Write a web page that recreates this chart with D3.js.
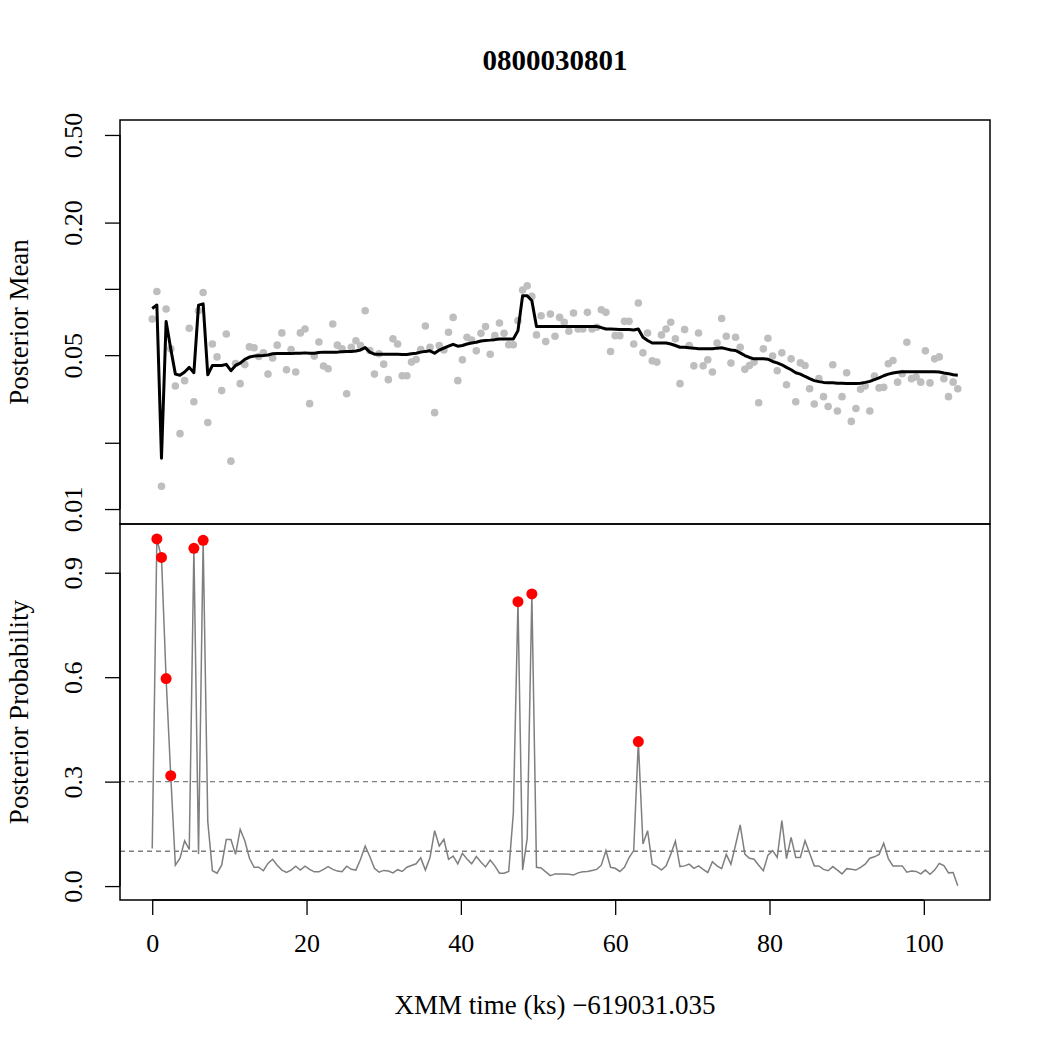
<!DOCTYPE html>
<html>
<head>
<meta charset="utf-8">
<script src="https://d3js.org/d3.v7.min.js"></script>
<style>
body { margin: 0; background: white; }
text { font-family: "Liberation Serif", "Times New Roman", serif; }
</style>
</head>
<body>
<div id="chart"></div>
<script>
// ---- data ----
const chartTitle = "0800030801";
const xLabel = "XMM time (ks) \u2212619031.035";
const topLabel = "Posterior Mean";
const bottomLabel = "Posterior Probability";

// time of each bin (ks)
const times = [
  0, 0.6, 1.2, 1.8, 2.4, 3, 3.6, 4.2, 4.8, 5.4,
  6, 6.6, 7.2, 7.8, 8.4, 9, 9.6, 10.2, 10.8, 11.4,
  12, 12.6, 13.2, 13.8, 14.4, 15, 15.6, 16.2, 16.8, 17.4,
  18, 18.6, 19.2, 19.8, 20.4, 21, 21.6, 22.2, 22.8, 23.4,
  24, 24.6, 25.2, 25.8, 26.4, 27, 27.6, 28.2, 28.8, 29.4,
  30, 30.6, 31.2, 31.8, 32.4, 33, 33.6, 34.2, 34.8, 35.4,
  36, 36.6, 37.2, 37.8, 38.4, 39, 39.6, 40.2, 40.8, 41.4,
  42, 42.6, 43.2, 43.8, 44.4, 45, 45.6, 46.2, 46.8, 47.4,
  48, 48.6, 49.2, 49.8, 50.4, 51, 51.6, 52.2, 52.8, 53.4,
  54, 54.6, 55.2, 55.8, 56.4, 57, 57.6, 58.2, 58.8, 59.4,
  60, 60.6, 61.2, 61.8, 62.4, 63, 63.6, 64.2, 64.8, 65.4,
  66, 66.6, 67.2, 67.8, 68.4, 69, 69.6, 70.2, 70.8, 71.4,
  72, 72.6, 73.2, 73.8, 74.4, 75, 75.6, 76.2, 76.8, 77.4,
  78, 78.6, 79.2, 79.8, 80.4, 81, 81.6, 82.2, 82.8, 83.4,
  84, 84.6, 85.2, 85.8, 86.4, 87, 87.6, 88.2, 88.8, 89.4,
  90, 90.6, 91.2, 91.8, 92.4, 93, 93.6, 94.2, 94.8, 95.4,
  96, 96.6, 97.2, 97.8, 98.4, 99, 99.6, 100.2, 100.8, 101.4,
  102, 102.6, 103.2, 103.8, 104.4
];

// posterior mean of each bin (grey points)
const postMean = [
  0.0729, 0.0973, 0.0127, 0.0810, 0.0534, 0.0362, 0.0220, 0.0383, 0.0662, 0.0307,
  0.0796, 0.0963, 0.0247, 0.0562, 0.0491, 0.0345, 0.0624, 0.0165, 0.0458, 0.0371,
  0.0453, 0.0545, 0.0540, 0.0493, 0.0512, 0.0410, 0.0485, 0.0555, 0.0631, 0.0429,
  0.0530, 0.0419, 0.0631, 0.0657, 0.0301, 0.0495, 0.0574, 0.0446, 0.0434, 0.0692,
  0.0555, 0.0534, 0.0334, 0.0543, 0.0581, 0.0553, 0.0796, 0.0525, 0.0410, 0.0507,
  0.0455, 0.0387, 0.0593, 0.0562, 0.0403, 0.0403, 0.0465, 0.0478, 0.0530, 0.0678,
  0.0543, 0.0274, 0.0553, 0.0528, 0.0635, 0.0742, 0.0383, 0.0476, 0.0603, 0.0586,
  0.0523, 0.0628, 0.0674, 0.0505, 0.0613, 0.0700, 0.0628, 0.0557, 0.0557, 0.0717,
  0.0987, 0.1032, 0.0924, 0.0618, 0.0755, 0.0576, 0.0768, 0.0609, 0.0742, 0.0705,
  0.0642, 0.0777, 0.0657, 0.0657, 0.0782, 0.0657, 0.0669, 0.0804, 0.0782, 0.0519,
  0.0613, 0.0613, 0.0712, 0.0712, 0.0562, 0.0862, 0.0512, 0.0630, 0.0471, 0.0465,
  0.0618, 0.0657, 0.0705, 0.0593, 0.0371, 0.0653, 0.0553, 0.0447, 0.0630, 0.0447,
  0.0476, 0.0419, 0.0568, 0.0734, 0.0609, 0.0460, 0.0603, 0.0543, 0.0431, 0.0449,
  0.0465, 0.0304, 0.0534, 0.0597, 0.0495, 0.0425, 0.0512, 0.0367, 0.0481, 0.0307,
  0.0461, 0.0449, 0.0352, 0.0300, 0.0391, 0.0324, 0.0292, 0.0452, 0.0279, 0.0324,
  0.0416, 0.0250, 0.0286, 0.0350, 0.0362, 0.0279, 0.0402, 0.0355, 0.0357, 0.0457,
  0.0473, 0.0377, 0.0412, 0.0572, 0.0391, 0.0398, 0.0377, 0.0523, 0.0374, 0.0481,
  0.0491, 0.0391, 0.0324, 0.0377, 0.0352
];

// smoothed posterior mean (black line)
const smoothMean = [
  0.0815, 0.0844, 0.0170, 0.0710, 0.0534, 0.0410, 0.0405, 0.0419, 0.0440, 0.0416,
  0.0844, 0.0855, 0.0407, 0.0449, 0.0449, 0.0449, 0.0454, 0.0425, 0.0449, 0.0460,
  0.0478, 0.0490, 0.0495, 0.0497, 0.0498, 0.0501, 0.0507, 0.0508, 0.0508, 0.0508,
  0.0508, 0.0510, 0.0510, 0.0512, 0.0510, 0.0510, 0.0514, 0.0516, 0.0516, 0.0516,
  0.0516, 0.0518, 0.0520, 0.0520, 0.0522, 0.0528, 0.0541, 0.0516, 0.0505, 0.0505,
  0.0505, 0.0505, 0.0505, 0.0505, 0.0503, 0.0503, 0.0507, 0.0510, 0.0516, 0.0520,
  0.0523, 0.0510, 0.0527, 0.0538, 0.0549, 0.0560, 0.0549, 0.0553, 0.0562, 0.0568,
  0.0572, 0.0580, 0.0583, 0.0585, 0.0588, 0.0592, 0.0592, 0.0592, 0.0592, 0.0646,
  0.0930, 0.0930, 0.0883, 0.0674, 0.0674, 0.0674, 0.0674, 0.0674, 0.0674, 0.0674,
  0.0674, 0.0674, 0.0674, 0.0674, 0.0674, 0.0674, 0.0674, 0.0667, 0.0657, 0.0657,
  0.0655, 0.0653, 0.0653, 0.0653, 0.0651, 0.0657, 0.0603, 0.0583, 0.0568, 0.0568,
  0.0568, 0.0568, 0.0562, 0.0553, 0.0543, 0.0543, 0.0540, 0.0538, 0.0534, 0.0534,
  0.0534, 0.0534, 0.0538, 0.0540, 0.0534, 0.0528, 0.0525, 0.0512, 0.0498, 0.0488,
  0.0481, 0.0481, 0.0481, 0.0479, 0.0468, 0.0461, 0.0452, 0.0440, 0.0429, 0.0416,
  0.0410, 0.0400, 0.0391, 0.0383, 0.0379, 0.0376, 0.0375, 0.0375, 0.0373, 0.0373,
  0.0372, 0.0372, 0.0372, 0.0373, 0.0376, 0.0380, 0.0387, 0.0394, 0.0403, 0.0410,
  0.0415, 0.0418, 0.0420, 0.0420, 0.0420, 0.0420, 0.0420, 0.0420, 0.0420, 0.0420,
  0.0419, 0.0415, 0.0412, 0.0407, 0.0405
];

// posterior probability of a change in each bin
const postProb = [
  0.108, 0.997, 0.944, 0.596, 0.317, 0.060, 0.080, 0.130, 0.105, 0.970,
  0.092, 0.993, 0.185, 0.044, 0.037, 0.060, 0.134, 0.134, 0.091, 0.163,
  0.130, 0.080, 0.054, 0.054, 0.044, 0.065, 0.077, 0.060, 0.046, 0.039,
  0.046, 0.057, 0.046, 0.057, 0.048, 0.041, 0.041, 0.048, 0.056, 0.048,
  0.043, 0.041, 0.057, 0.048, 0.046, 0.077, 0.115, 0.085, 0.051, 0.040,
  0.045, 0.043, 0.038, 0.047, 0.042, 0.054, 0.059, 0.064, 0.081, 0.046,
  0.082, 0.159, 0.115, 0.134, 0.077, 0.086, 0.064, 0.094, 0.078, 0.064,
  0.085, 0.069, 0.055, 0.075, 0.058, 0.037, 0.037, 0.042, 0.209, 0.817,
  0.046, 0.137, 0.839, 0.054, 0.052, 0.041, 0.030, 0.035, 0.035, 0.035,
  0.034, 0.032, 0.038, 0.041, 0.042, 0.045, 0.048, 0.060, 0.102, 0.054,
  0.051, 0.042, 0.054, 0.082, 0.102, 0.415, 0.121, 0.159, 0.063, 0.056,
  0.046, 0.058, 0.091, 0.129, 0.056, 0.058, 0.063, 0.051, 0.058, 0.048,
  0.039, 0.070, 0.058, 0.050, 0.091, 0.063, 0.118, 0.176, 0.092, 0.080,
  0.077, 0.060, 0.044, 0.089, 0.102, 0.082, 0.188, 0.079, 0.140, 0.082,
  0.082, 0.130, 0.094, 0.058, 0.058, 0.048, 0.044, 0.056, 0.046, 0.035,
  0.050, 0.048, 0.046, 0.054, 0.063, 0.080, 0.084, 0.091, 0.123, 0.079,
  0.058, 0.058, 0.058, 0.040, 0.043, 0.042, 0.035, 0.046, 0.034, 0.046,
  0.065, 0.059, 0.038, 0.039, 0.001
];

const thresholds = [0.3, 0.1];     // dashed reference lines
const xTicks = [0, 20, 40, 60, 80, 100];
const topTicks = [0.01, 0.02, 0.05, 0.1, 0.2, 0.5];
const topTickLabels = ["0.01", "", "0.05", "", "0.20", "0.50"];
const bottomTicks = [0, 0.3, 0.6, 0.9];
const bottomTickLabels = ["0.0", "0.3", "0.6", "0.9"];
const topLim = [0.01, 0.5];
const bottomLim = [0, 1];

// ---- layout ----
const W = 1050, H = 1050;
const pLeft = 120, pRight = 990, pTop = 120, pMid = 524, pBottom = 900;

const svg = d3.select("#chart").append("svg")
    .attr("width", W).attr("height", H)
    .style("background", "white");

// R style 4% padding
var xPad = 0.04 * (d3.max(times) - d3.min(times));
var x = d3.scaleLinear()
    .domain([d3.min(times) - xPad, d3.max(times) + xPad])
    .range([pLeft, pRight]);

var lt = topLim.map(Math.log10);
var ltPad = 0.04 * (lt[1] - lt[0]);
var yTop = d3.scaleLog()
    .domain([Math.pow(10, lt[0] - ltPad), Math.pow(10, lt[1] + ltPad)])
    .range([pMid, pTop]);

var bPad = 0.04 * (bottomLim[1] - bottomLim[0]);
var yBot = d3.scaleLinear()
    .domain([bottomLim[0] - bPad, bottomLim[1] + bPad])
    .range([pBottom, pMid]);

// ---- top panel ----
svg.append("g").selectAll("circle")
    .data(times)
    .enter().append("circle")
    .attr("cx", function (d) { return x(d); })
    .attr("cy", function (d, i) { return yTop(postMean[i]); })
    .attr("r", 3.8)
    .attr("fill", "#bebebe");

var meanLine = d3.line()
    .x(function (d) { return x(d); })
    .y(function (d, i) { return yTop(smoothMean[i]); });

svg.append("path")
    .datum(times)
    .attr("d", meanLine)
    .attr("fill", "none")
    .attr("stroke", "black")
    .attr("stroke-width", 3)
    .attr("stroke-linejoin", "round");

// ---- bottom panel ----
thresholds.forEach(function (t) {
    svg.append("line")
        .attr("x1", pLeft).attr("x2", pRight)
        .attr("y1", yBot(t)).attr("y2", yBot(t))
        .attr("stroke", "#7f7f7f")
        .attr("stroke-width", 1.3)
        .attr("stroke-dasharray", "5,4");
});

var probLine = d3.line()
    .x(function (d) { return x(d); })
    .y(function (d, i) { return yBot(postProb[i]); });

svg.append("path")
    .datum(times)
    .attr("d", probLine)
    .attr("fill", "none")
    .attr("stroke", "#7f7f7f")
    .attr("stroke-width", 1.5);

var flagged = times.map(function (t, i) { return { t: t, p: postProb[i] }; })
    .filter(function (d) { return d.p > thresholds[0]; });

svg.append("g").selectAll("circle")
    .data(flagged)
    .enter().append("circle")
    .attr("cx", function (d) { return x(d.t); })
    .attr("cy", function (d) { return yBot(d.p); })
    .attr("r", 5.5)
    .attr("fill", "red");

// ---- boxes ----
[[pTop, pMid], [pMid, pBottom]].forEach(function (b) {
    svg.append("rect")
        .attr("x", pLeft).attr("y", b[0])
        .attr("width", pRight - pLeft).attr("height", b[1] - b[0])
        .attr("fill", "none")
        .attr("stroke", "black")
        .attr("stroke-width", 1.5);
});

// ---- axes ----
var fontSize = 26;

function styleAxis(g) {
    g.attr("font-family", "Liberation Serif").attr("font-size", fontSize);
    g.select(".domain").remove();
    g.selectAll(".tick line").attr("stroke-width", 1.3);
}

function leftAxis(scale, ticks, labels) {
    var g = svg.append("g").attr("transform", "translate(" + pLeft + ",0)");
    g.call(d3.axisLeft(scale).tickValues(ticks).tickSize(15)
        .tickFormat(function (d) { return labels[ticks.indexOf(d)]; }));
    styleAxis(g);
    g.selectAll(".tick text")
        .attr("transform", "rotate(-90)")
        .attr("x", 0).attr("y", -38).attr("dy", 0)
        .attr("text-anchor", "middle");
    g.append("line")
        .attr("x1", 0).attr("x2", 0)
        .attr("y1", scale(ticks[0])).attr("y2", scale(ticks[ticks.length - 1]))
        .attr("stroke", "black").attr("stroke-width", 1.3);
}

leftAxis(yTop, topTicks, topTickLabels);
leftAxis(yBot, bottomTicks, bottomTickLabels);

var gx = svg.append("g").attr("transform", "translate(0," + pBottom + ")");
gx.call(d3.axisBottom(x).tickValues(xTicks).tickSize(15));
styleAxis(gx);
gx.selectAll(".tick text").attr("y", 52).attr("dy", 0);
gx.append("line")
    .attr("x1", x(xTicks[0])).attr("x2", x(xTicks[xTicks.length - 1]))
    .attr("y1", 0).attr("y2", 0)
    .attr("stroke", "black").attr("stroke-width", 1.3);

// ---- titles ----
svg.append("text")
    .attr("x", (pLeft + pRight) / 2).attr("y", 70)
    .attr("text-anchor", "middle")
    .attr("font-weight", "bold")
    .attr("font-size", 29)
    .text(chartTitle);

svg.append("text")
    .attr("x", (pLeft + pRight) / 2).attr("y", 1014)
    .attr("text-anchor", "middle")
    .attr("font-size", 27)
    .text(xLabel);

svg.append("text")
    .attr("transform", "translate(28," + (pTop + pMid) / 2 + ") rotate(-90)")
    .attr("text-anchor", "middle")
    .attr("font-size", 27)
    .text(topLabel);

svg.append("text")
    .attr("transform", "translate(28," + (pMid + pBottom) / 2 + ") rotate(-90)")
    .attr("text-anchor", "middle")
    .attr("font-size", 27)
    .text(bottomLabel);
</script>
</body>
</html>
